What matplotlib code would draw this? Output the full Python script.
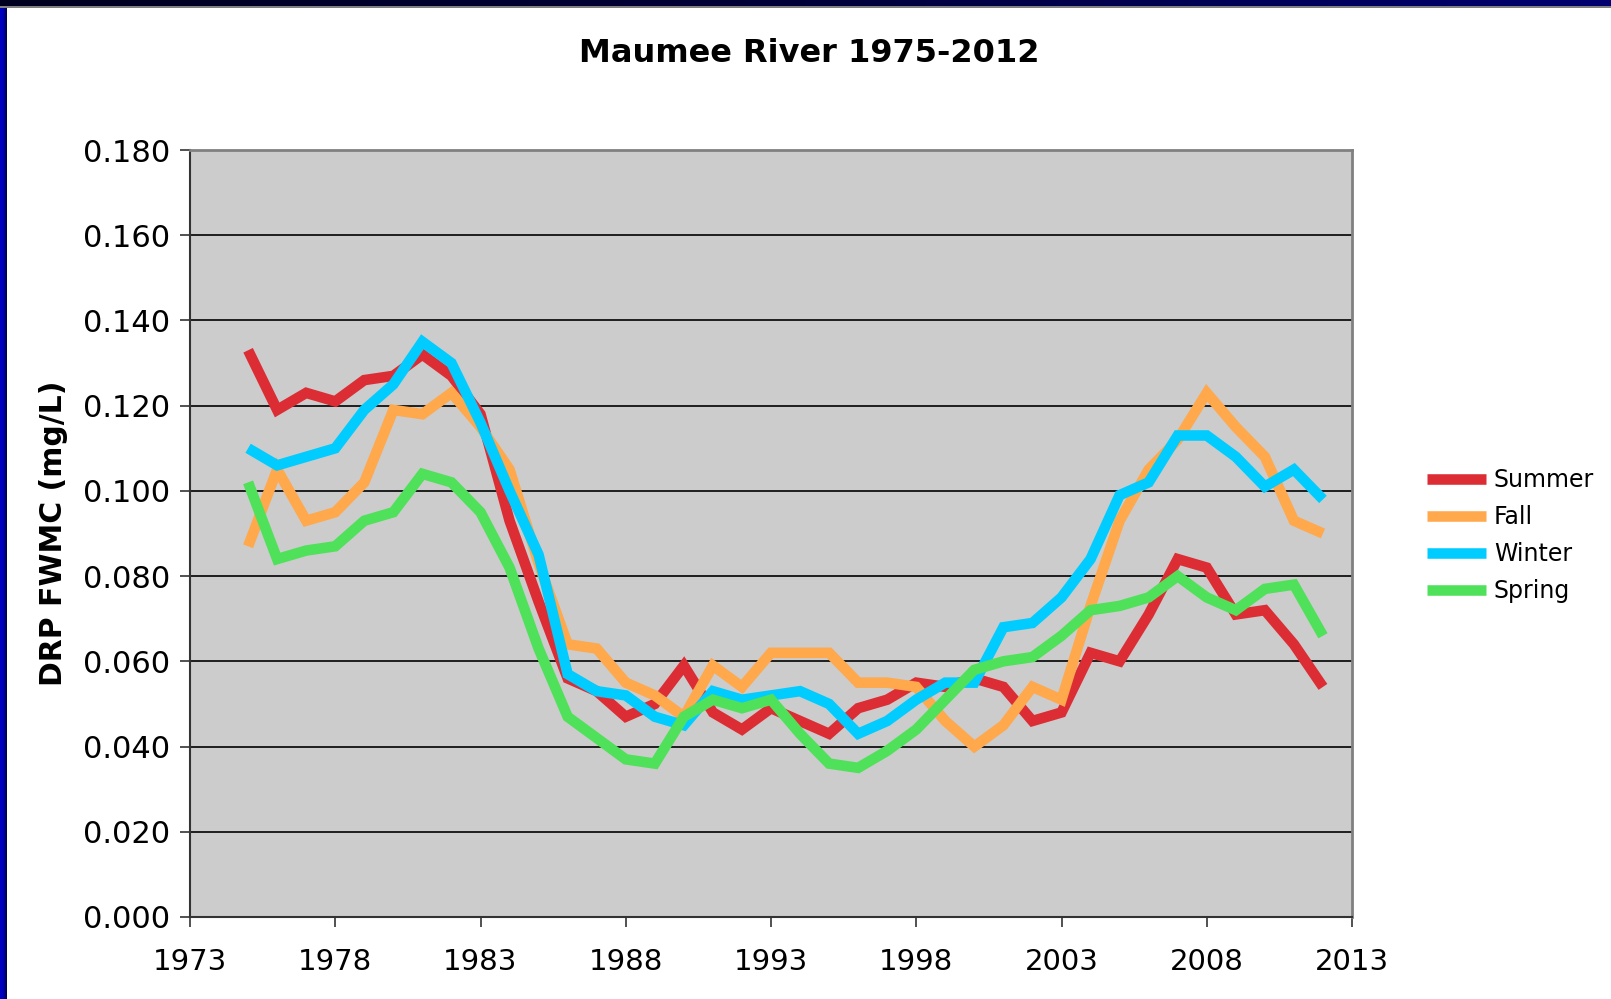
import matplotlib
matplotlib.use("Agg")
import matplotlib.pyplot as plt
import numpy as np
from matplotlib.patches import Rectangle

years = list(range(1975, 2013))
summer = [0.133, 0.119, 0.123, 0.121, 0.126, 0.127, 0.132, 0.127, 0.118, 0.093,
          0.074, 0.056, 0.053, 0.047, 0.050, 0.059, 0.048, 0.044, 0.049, 0.046,
          0.043, 0.049, 0.051, 0.055, 0.054, 0.056, 0.054, 0.046, 0.048, 0.062,
          0.060, 0.071, 0.084, 0.082, 0.071, 0.072, 0.064, 0.054]
fall = [0.087, 0.105, 0.093, 0.095, 0.102, 0.119, 0.118, 0.123, 0.115, 0.105,
        0.083, 0.064, 0.063, 0.055, 0.052, 0.047, 0.059, 0.054, 0.062, 0.062,
        0.062, 0.055, 0.055, 0.054, 0.046, 0.040, 0.045, 0.054, 0.051, 0.073,
        0.093, 0.105, 0.112, 0.123, 0.115, 0.108, 0.093, 0.090]
winter = [0.110, 0.106, 0.108, 0.110, 0.119, 0.125, 0.135, 0.130, 0.116, 0.100,
          0.085, 0.057, 0.053, 0.052, 0.047, 0.045, 0.053, 0.051, 0.052, 0.053,
          0.050, 0.043, 0.046, 0.051, 0.055, 0.055, 0.068, 0.069, 0.075, 0.084,
          0.099, 0.102, 0.113, 0.113, 0.108, 0.101, 0.105, 0.098]
spring = [0.102, 0.084, 0.086, 0.087, 0.093, 0.095, 0.104, 0.102, 0.095, 0.082,
          0.063, 0.047, 0.042, 0.037, 0.036, 0.047, 0.051, 0.049, 0.051, 0.043,
          0.036, 0.035, 0.039, 0.044, 0.051, 0.058, 0.060, 0.061, 0.066, 0.072,
          0.073, 0.075, 0.080, 0.075, 0.072, 0.077, 0.078, 0.066]

series_names = ["Summer", "Fall", "Winter", "Spring"]
series_values = [summer, fall, winter, spring]
series_colors = ["#DC2D35", "#FFA84C", "#00CCFF", "#4FE15A"]

x_ticks = list(range(1973, 2014, 5))
y_ticks = [i * 0.02 for i in range(10)]

W, H = 1611, 999
fig = plt.figure(figsize=(W / 100, H / 100), dpi=100)
fig.patch.set_facecolor("white")

# decorative border (top and left bands)
grad = np.linspace(0, 1, 256).reshape(1, -1)
top_ax = fig.add_axes([0, 1 - 6 / H, 1, 6 / H])
top_ax.imshow(grad, aspect="auto",
              cmap=matplotlib.colors.LinearSegmentedColormap.from_list(
                  "t", ["#000020", "#00003a", "#000070"]))
top_ax.axis("off")
fig.add_artist(Rectangle((0, 1 - 7.5 / H), 1, 1.5 / H, transform=fig.transFigure,
                         facecolor="#808080", edgecolor="none"))
left_ax = fig.add_axes([0, 0, 7 / W, 1 - 6 / H])
left_ax.imshow(grad, aspect="auto",
               cmap=matplotlib.colors.LinearSegmentedColormap.from_list(
                   "l", ["#0000C8", "#0000B0", "#000040"]))
left_ax.axis("off")

ax = fig.add_axes([190 / W, (H - 917) / H, (1352 - 190) / W, (917 - 150) / H])
ax.set_facecolor("#CCCCCC")

for name, vals, col in zip(series_names, series_values, series_colors):
    ax.plot(years, vals, color=col, lw=7.6, label=name,
            solid_capstyle="butt", solid_joinstyle="miter", zorder=3)

ax.set_xlim(1973, 2013)
ax.set_ylim(0, 0.18)
ax.set_xticks(x_ticks)
ax.set_yticks(y_ticks)
ax.set_yticklabels([f"{v:.3f}" for v in y_ticks])
ax.yaxis.grid(True, color="black", lw=1.2, zorder=1)
ax.set_axisbelow(True)
ax.tick_params(axis="y", labelsize=22, direction="out", length=7,
               width=1.2, color="#333333", pad=7)
ax.tick_params(axis="x", labelsize=21, direction="out", length=7,
               width=1.2, color="#333333", pad=15)
for s in ["top", "right"]:
    ax.spines[s].set_color("#808080")
    ax.spines[s].set_linewidth(2)
for s in ["left", "bottom"]:
    ax.spines[s].set_color("#333333")
    ax.spines[s].set_linewidth(1.5)

fig.text(53 / W, 1 - 533 / H, "DRP FWMC (mg/L)", rotation=90, ha="center",
         va="center", fontsize=21.5, fontweight="bold")
fig.text(809 / W, 1 - 53 / H, "Maumee River 1975-2012", ha="center", va="center",
         fontsize=23, fontweight="bold")

leg = ax.legend(loc="center left", bbox_to_anchor=(1.046, 0.497), frameon=False,
                fontsize=17, handlelength=2.5, handletextpad=0.35, labelspacing=0.55)
for line in leg.get_lines():
    line.set_linewidth(7.6)

fig.savefig("out.png", dpi=100)
